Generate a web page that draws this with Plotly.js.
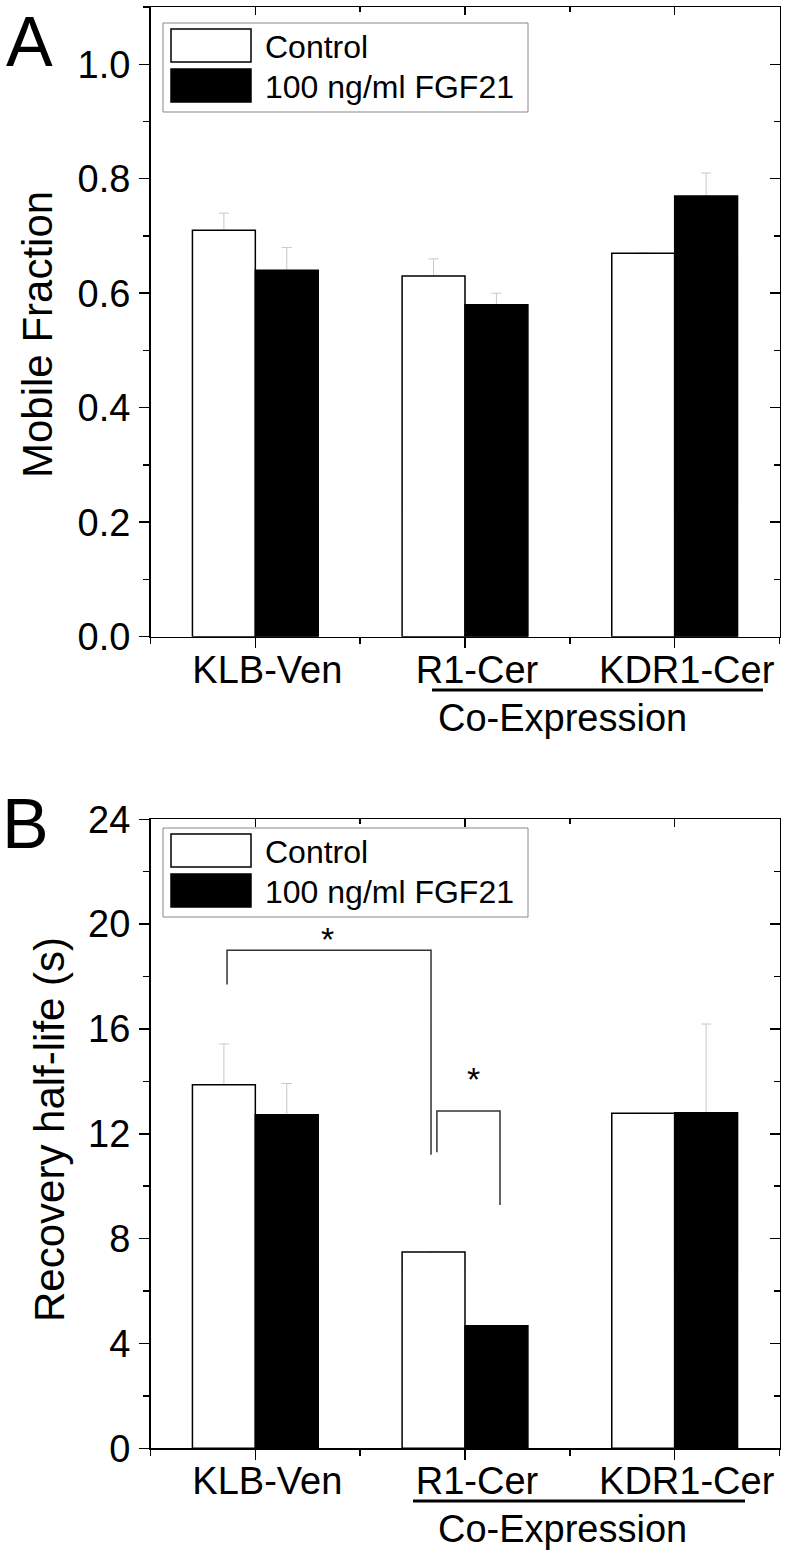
<!DOCTYPE html>
<html><head><meta charset="utf-8">
<script src="https://cdn.plot.ly/plotly-3.0.1.min.js"></script>
<style>body{margin:0;background:#fff}</style>
</head><body>
<div id="chart" style="width:785px;height:1560px"></div>
<script>
// ---- data ----
const categories = ['KLB-Ven', 'R1-Cer', 'KDR1-Cer'];
const xPos = [1, 2, 3];
const seriesNames = ['Control', '100 ng/ml FGF21'];
const mobileControl = [0.71, 0.63, 0.67];
const mobileControlErr = [0.03, 0.03, null];
const mobileFGF21 = [0.64, 0.58, 0.77];
const mobileFGF21Err = [0.04, 0.02, 0.04];
const halfLifeControl = [13.87, 7.49, 12.78];
const halfLifeControlErr = [1.56, null, null];
const halfLifeFGF21 = [12.73, 4.68, 12.8];
const halfLifeFGF21Err = [1.19, null, 3.39];
const bracket1X = [0.865, 0.865, 1.838, 1.838];
const bracket1Y = [17.7, 19.0, 19.0, 11.2];
const bracket2X = [1.866, 1.866, 2.167, 2.167];
const bracket2Y = [11.3, 12.87, 12.87, 9.28];
const starX = [1.345, 2.04];
const starY = [19.45, 14.1];
const groupLabel = 'Co-Expression';
const panelLetters = ['A', 'B'];
const yTitles = ['Mobile Fraction', 'Recovery half-life (s)'];

// ---- helpers ----
const W = 785, H = 1560;
const px = v => v / W;
const py = v => 1 - v / H;
const FONT = 'Liberation Sans, Arial, sans-serif';
const BAR_W = 0.3;

function bar(y, i, xa, ya) {
  return {
    type: 'bar', x: xPos, y: y, name: seriesNames[i], xaxis: xa, yaxis: ya,
    width: BAR_W, offset: i === 0 ? -BAR_W : 0,
    showlegend: false, hoverinfo: 'skip',
    marker: {color: i === 0 ? '#ffffff' : '#000000', line: {color: '#000000', width: 1.5}}
  };
}
// transparent bar carrying the (upper) error bar, drawn underneath the visible bar
function errBar(y, err, i, xa, ya) {
  return {
    type: 'bar', x: xPos, y: y, xaxis: xa, yaxis: ya,
    width: BAR_W, offset: i === 0 ? -BAR_W : 0,
    showlegend: false, hoverinfo: 'skip',
    marker: {color: 'rgba(0,0,0,0)', line: {width: 0}},
    error_y: {type: 'data', symmetric: false, array: err, arrayminus: err.map(() => 0),
              color: '#c8c8c8', thickness: 1, width: 5}
  };
}
function dummy(xa, ya) {
  return {type: 'scatter', x: [2], y: [0], xaxis: xa, yaxis: ya, mode: 'markers',
          marker: {opacity: 0}, hoverinfo: 'skip', showlegend: false};
}
function bracket(xs, ys) {
  return {type: 'scatter', x: xs, y: ys, xaxis: 'x2', yaxis: 'y2', mode: 'lines',
          line: {color: '#333333', width: 1.5}, hoverinfo: 'skip', showlegend: false};
}

const data = [
  errBar(mobileControl, mobileControlErr, 0, 'x', 'y'),
  errBar(mobileFGF21, mobileFGF21Err, 1, 'x', 'y'),
  errBar(halfLifeControl, halfLifeControlErr, 0, 'x2', 'y2'),
  errBar(halfLifeFGF21, halfLifeFGF21Err, 1, 'x2', 'y2'),
  bar(mobileControl, 0, 'x', 'y'),
  bar(mobileFGF21, 1, 'x', 'y'),
  bar(halfLifeControl, 0, 'x2', 'y2'),
  bar(halfLifeFGF21, 1, 'x2', 'y2'),
  bracket(bracket1X, bracket1Y),
  bracket(bracket2X, bracket2Y),
  dummy('x3', 'y3'),
  dummy('x4', 'y4')
];

const xDom = [px(150.5), px(779.5)];
const domA = [py(636.7), py(7)];
const domB = [py(1448.3), py(819.3)];

function xMain(anchor) {
  return {domain: xDom, anchor: anchor, range: [0.5, 3.5], tickmode: 'array',
    tickvals: xPos, ticktext: categories, ticks: 'outside', ticklen: 10, tickwidth: 1.5,
    tickcolor: '#000', showline: true, linecolor: '#000', linewidth: 1.5,
    showgrid: false, zeroline: false, tickfont: {size: 38, color: '#000'},
    ticklabelshift: 12, ticklabelstandoff: -11,
    minor: {tickmode: 'array', tickvals: [0.5, 1.5, 2.5, 3.5], ticks: 'outside', ticklen: 6,
            tickwidth: 1.5, tickcolor: '#000', showgrid: false}};
}
function xTop(over, anchor) {
  return {overlaying: over, anchor: anchor, side: 'top', range: [0.5, 3.5], tickmode: 'array',
    tickvals: xPos, ticks: 'inside', ticklen: 8, tickwidth: 1.5, tickcolor: '#000',
    showticklabels: false, showline: true, linecolor: '#000', linewidth: 1.5,
    showgrid: false, zeroline: false,
    minor: {tickmode: 'array', tickvals: [0.5, 1.5, 2.5, 3.5], ticks: 'inside', ticklen: 5,
            tickwidth: 1.5, tickcolor: '#000', showgrid: false}};
}
function yMain(dom, anchor, range, dtick, minorDtick, fmt) {
  return {domain: dom, anchor: anchor, range: range, tickmode: 'linear', tick0: 0, dtick: dtick,
    tickformat: fmt, ticks: 'outside', ticklen: 10, tickwidth: 1.5, tickcolor: '#000',
    showline: true, linecolor: '#000', linewidth: 1.5, showgrid: false, zeroline: false,
    tickfont: {size: 38, color: '#000'}, ticklabelstandoff: 1,
    minor: {tickmode: 'linear', tick0: 0, dtick: minorDtick, ticks: 'outside', ticklen: 6,
            tickwidth: 1.5, tickcolor: '#000', showgrid: false}};
}
function yRight(over, anchor, range, dtick, minorDtick) {
  return {overlaying: over, anchor: anchor, side: 'right', range: range, tickmode: 'linear',
    tick0: 0, dtick: dtick, ticks: 'inside', ticklen: 10, tickwidth: 1.5, tickcolor: '#000',
    showticklabels: false, showline: true, linecolor: '#000', linewidth: 1.5,
    showgrid: false, zeroline: false,
    minor: {tickmode: 'linear', tick0: 0, dtick: minorDtick, ticks: 'inside', ticklen: 6,
            tickwidth: 1.5, tickcolor: '#000', showgrid: false}};
}

// legend + group labels as shapes/annotations
const shapes = [];
const annotations = [];
function legend(top) {
  shapes.push({type: 'rect', xref: 'paper', yref: 'paper', x0: px(163), x1: px(528),
    y0: py(top), y1: py(top + 89), line: {color: '#888888', width: 1}, fillcolor: '#ffffff'});
  shapes.push({type: 'rect', xref: 'paper', yref: 'paper', x0: px(171), x1: px(251),
    y0: py(top + 6), y1: py(top + 39), line: {color: '#000', width: 1.5}, fillcolor: '#ffffff'});
  shapes.push({type: 'rect', xref: 'paper', yref: 'paper', x0: px(171), x1: px(251),
    y0: py(top + 46), y1: py(top + 79), line: {color: '#000', width: 1.5}, fillcolor: '#000000'});
  annotations.push({xref: 'paper', yref: 'paper', x: px(263), y: py(top + 24), xanchor: 'left',
    yanchor: 'middle', text: seriesNames[0], showarrow: false, font: {size: 32, color: '#000'}});
  annotations.push({xref: 'paper', yref: 'paper', x: px(263), y: py(top + 64), xanchor: 'left',
    yanchor: 'middle', text: seriesNames[1], showarrow: false, font: {size: 32, color: '#000'}});
}
legend(23);
legend(828);

function group(lineY, x0, x1, textY) {
  shapes.push({type: 'line', xref: 'paper', yref: 'paper', x0: px(x0), x1: px(x1),
    y0: py(lineY), y1: py(lineY), line: {color: '#000', width: 3}});
  annotations.push({xref: 'paper', yref: 'paper', x: px(562), y: py(textY), xanchor: 'center',
    yanchor: 'middle', text: groupLabel, showarrow: false, font: {size: 38, color: '#000'}});
}
group(690, 432, 763, 718);
group(1501, 413, 745, 1529);

annotations.push({xref: 'paper', yref: 'paper', x: px(29), y: py(42), xanchor: 'center',
  yanchor: 'middle', text: panelLetters[0], showarrow: false, font: {size: 70, color: '#000'}});
annotations.push({xref: 'paper', yref: 'paper', x: px(25), y: py(824), xanchor: 'center',
  yanchor: 'middle', text: panelLetters[1], showarrow: false, font: {size: 70, color: '#000'}});
annotations.push({xref: 'paper', yref: 'paper', x: px(37), y: py(335), xanchor: 'center',
  yanchor: 'middle', textangle: -90, text: yTitles[0], showarrow: false,
  font: {size: 42, color: '#000'}});
annotations.push({xref: 'paper', yref: 'paper', x: px(49), y: py(1130), xanchor: 'center',
  yanchor: 'middle', textangle: -90, text: yTitles[1], showarrow: false,
  font: {size: 42, color: '#000'}});
for (let i = 0; i < starX.length; i++) {
  annotations.push({xref: 'x2', yref: 'y2', x: starX[i], y: starY[i], xanchor: 'center',
    yanchor: 'middle', text: '*', showarrow: false, font: {size: 34, color: '#000'}});
}

const layout = {
  width: W, height: H, margin: {l: 0, r: 0, t: 0, b: 0},
  paper_bgcolor: '#fff', plot_bgcolor: '#fff',
  font: {family: FONT, color: '#000'},
  barmode: 'overlay',
  showlegend: false,
  xaxis: xMain('y'),
  yaxis: yMain(domA, 'x', [0, 1.1], 0.2, 0.1, '.1f'),
  xaxis2: xMain('y2'),
  yaxis2: yMain(domB, 'x2', [0, 24], 4, 2, 'd'),
  xaxis3: xTop('x', 'y3'),
  yaxis3: yRight('y', 'x3', [0, 1.1], 0.2, 0.1),
  xaxis4: xTop('x2', 'y4'),
  yaxis4: yRight('y2', 'x4', [0, 24], 4, 2),
  shapes: shapes,
  annotations: annotations
};

Plotly.newPlot('chart', data, layout, {displayModeBar: false, staticPlot: true});
</script>
</body></html>
